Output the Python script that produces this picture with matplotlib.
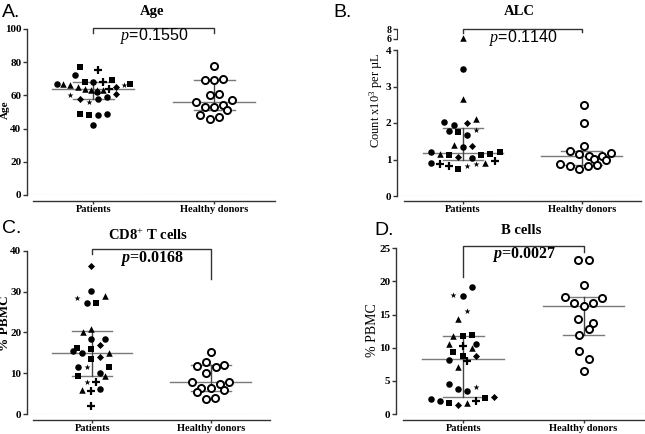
import matplotlib
matplotlib.use('Agg')
import matplotlib.pyplot as plt

plt.rcParams['font.family'] = 'Liberation Serif'
plt.rcParams['mathtext.fontset'] = 'custom'
plt.rcParams['mathtext.it'] = 'Liberation Serif:italic'
plt.rcParams['mathtext.bfit'] = 'Liberation Serif:bold:italic'
plt.rcParams['mathtext.rm'] = 'Liberation Serif'

W, H = 645, 434
groups = ['Patients', 'Healthy donors']

# ---- A. Age ----
age_pat = [77, 75, 72, 67, 67, 66, 65, 68, 68, 64, 63, 68, 69, 63, 63, 64, 65, 66, 67,
           62, 61, 60, 58, 56, 58, 59, 49, 48, 48, 49, 42]
age_pat_dx = [-0.11, 0.04, -0.15, -0.30, -0.25, -0.19, -0.13, -0.07, 0.0, -0.07, -0.02, 0.08,
              0.15, 0.03, 0.08, 0.13, 0.19, 0.25, 0.30, 0.03, 0.19, -0.19, -0.11, -0.04, 0.04,
              0.11, -0.11, -0.04, 0.04, 0.11, 0.0]
age_pat_mk = ['s', '+', 'o', 'o', '^', '^', '^', 's', 'o', '^', '^', '+', 's', '^', '^', '+',
              'D', '*', 's', 'o', 'D', '*', 'D', '*', 'o', 'o', 's', 's', 'o', 'o', 'o']
age_hd = [78, 69, 69, 70, 60, 61, 56, 57, 53, 53, 54, 51, 48, 46, 47]
age_hd_dx = [0.0, -0.077, 0.0, 0.074, -0.038, 0.036, -0.151, 0.151, -0.077, 0.0, 0.074,
             0.11, -0.115, -0.038, 0.036]
age_stats = [(64, 58, 68), (56, 51, 69)]  # median, q1, q3

# ---- B. ALC ----
alc_pat = [6.3, 3.47, 2.65, 2.02, 1.94, 2.0, 2.12, 1.78, 1.74, 1.67, 1.80, 1.41, 1.34, 1.37,
           1.20, 1.16, 1.12, 1.07, 1.03, 1.12, 1.16, 1.20,
           0.91, 0.87, 0.81, 0.74, 0.81, 0.87, 0.91, 0.97]
alc_pat_dx = [0.0, 0.0, 0.0, -0.155, -0.076, 0.037, 0.113, -0.118, -0.042, 0.037, 0.113,
              -0.079, 0.0, 0.076, -0.268, -0.197, -0.118, -0.042, 0.076, 0.152, 0.231, 0.310,
              -0.268, -0.192, -0.118, -0.042, 0.037, 0.113, 0.189, 0.268]
alc_pat_mk = ['^', 'o', '^', 'o', 'o', 'D', '^', 'o', 's', 'o', '*', '^', 'o', 'D',
              'o', '^', 's', 'D', 'o', 's', 's', 's', 'o', '+', '+', 's', '*', '*', '^', '+']
alc_hd = [2.49, 2.0, 1.37, 1.24, 1.16, 1.09, 1.02, 1.09, 1.18, 0.89, 0.82, 0.75, 0.82, 0.86, 1.0]
alc_hd_dx = [0.02, 0.02, 0.02, -0.1, -0.02, 0.06, 0.1, 0.17, 0.245, -0.18, -0.1, -0.02,
             0.056, 0.13, 0.206]
alc_stats = [(1.19, 0.98, 1.85), (1.10, 0.86, 1.24)]

# ---- C. CD8+ T cells ----
cd8_pat = [36.2, 30.1, 28.3, 27.3, 27.3, 28.9, 20.2, 20.8, 18.3, 18.4, 16.9, 15.4, 16.2, 14.9,
           15.8, 14.0, 14.9, 13.5, 11.6, 11.4, 11.4, 10.1, 9.4, 9.4, 7.9, 7.9, 5.9, 5.6, 6.1, 2.0]
cd8_pat_dx = [-0.014, -0.011, -0.124, -0.048, 0.031, 0.110, -0.081, -0.011, -0.006, 0.107,
              0.065, -0.160, -0.124, -0.084, -0.011, 0.065, 0.143, -0.011, -0.118, -0.048,
              0.143, 0.065, 0.107, -0.118, -0.048, 0.031, -0.084, -0.011, 0.065, -0.011]
cd8_pat_mk = ['D', 'o', '*', 'o', 's', '^', '^', '^', 'o', 'o', 'D', 'o', 's', 'o', 's', 'D',
              '^', 's', 'o', '*', 's', 'o', '^', 's', '*', '+', '^', '+', 'o', '+']
cd8_hd = [15.1, 12.8, 11.8, 11.6, 12.0, 10.1, 7.8, 6.3, 6.3, 7.3, 7.9, 5.5, 5.9, 3.7, 3.8]
cd8_hd_dx = [0.0, -0.036, -0.112, 0.042, 0.110, -0.036, -0.155, -0.079, 0.0, 0.076, 0.152,
             -0.112, 0.110, -0.036, 0.039]
cd8_stats = [(14.9, 9.4, 20.4), (7.8, 5.7, 11.9)]

# ---- D. B cells ----
bc_pat = [19.1, 17.9, 17.8, 15.5, 14.3, 11.8, 11.8, 11.9, 10.5, 10.3, 10.5, 9.9, 9.3, 8.1, 8.8,
          8.0, 8.7, 7.1, 4.5, 3.7, 3.5, 4.1, 2.3, 2.0, 1.7, 1.3, 1.7, 1.9, 2.4, 2.5]
bc_pat_dx = [0.069, -0.083, -0.006, 0.028, -0.042, -0.083, -0.006, 0.069, -0.117, -0.006,
             0.106, 0.069, -0.083, -0.117, -0.006, 0.033, 0.106, -0.042, -0.117, -0.042,
             0.033, 0.106, -0.269, -0.194, -0.117, -0.042, 0.033, 0.106, 0.183, 0.258]
bc_pat_mk = ['o', '*', 'o', '*', '^', '^', 's', 's', '^', '+', 'o', '^', 's', 'o', 's', '+',
             'D', '^', 'o', 'o', 'o', '*', 'o', 'o', 's', 'D', '^', '+', 's', 'D']
bc_hd = [23.2, 23.2, 19.4, 17.6, 17.5, 16.7, 16.3, 16.7, 14.3, 13.7, 12.8, 11.9, 9.5, 8.3, 6.5]
bc_hd_dx = [-0.042, 0.042, 0.0, -0.153, 0.153, -0.078, 0.0, 0.078, -0.042, 0.078, 0.042,
            -0.039, -0.039, 0.042, 0.0]
bc_stats = [(8.3, 2.5, 11.8), (16.3, 11.9, 17.6)]

AX_COL = '#333333'
SIZES = {'o': 22, 's': 20, '^': 22, 'D': 13, '*': 20, '+': 34}


def rect(x0, y0, x1, y1):
    # pixel box (left, top, right, bottom) -> figure fraction
    return [x0 / W, 1 - y1 / H, (x1 - x0) / W, (y1 - y0) / H]


def style_axis(ax, ymax, yticks, xlim, drop=6):
    ax.set_xlim(*xlim)
    ax.set_ylim(0, ymax)
    for s in ['top', 'right']:
        ax.spines[s].set_visible(False)
    ax.spines['left'].set_bounds(0, ymax)
    ax.spines['bottom'].set_bounds(-0.5, 1.5)
    ax.spines['bottom'].set_position(('outward', drop * 0.72))
    for s in ['left', 'bottom']:
        ax.spines[s].set_color(AX_COL)
        ax.spines[s].set_linewidth(1.0)
    ax.set_yticks(yticks)
    ax.set_xticks([0, 1])
    ax.set_xticklabels(groups)
    ax.tick_params(axis='y', length=3, width=1, color=AX_COL, pad=1, labelsize=8)
    ax.tick_params(axis='x', length=2, width=1, color=AX_COL, pad=1, labelsize=7.5)
    for lab in ax.get_xticklabels() + ax.get_yticklabels():
        lab.set_fontweight('bold')
    ax.axhline(0, color='#666666', lw=0.8, ls=(0, (1, 1.5)), zorder=0)


def draw_points(ax, vals, dx, mk, x0):
    for m in set(mk):
        xs = [x0 + d for d, k in zip(dx, mk) if k == m]
        ys = [v for v, k in zip(vals, mk) if k == m]
        ax.scatter(xs, ys, marker=m, s=SIZES[m], c='black',
                   linewidths=1.6 if m == '+' else 0, clip_on=False, zorder=3)


def draw_open(ax, vals, dx, x0):
    ax.scatter([x0 + d for d in dx], vals, marker='o', s=26, facecolors='white',
               edgecolors='black', linewidths=1.4, clip_on=False, zorder=3)


def draw_stats(ax, stats):
    for i, (med, q1, q3) in enumerate(stats):
        ax.plot([i - 0.34, i + 0.34], [med, med], color='#7a7a7a', lw=1, zorder=2)
        ax.plot([i - 0.17, i + 0.17], [q1, q1], color='#7a7a7a', lw=1, zorder=2)
        ax.plot([i - 0.17, i + 0.17], [q3, q3], color='#7a7a7a', lw=1, zorder=2)
        ax.plot([i, i], [q1, q3], color='#444444', lw=1, zorder=2)


def bracket(ax, top, left_bot, right_bot):
    ax.plot([0, 0, 1, 1], [left_bot, top, top, right_bot], color=AX_COL, lw=1,
            clip_on=False, zorder=2)


fig = plt.figure(figsize=(W / 100, H / 100), dpi=100)
fig.patch.set_facecolor('white')

# A
axA = fig.add_axes(rect(27, 29, 277, 195))
style_axis(axA, 100, range(0, 101, 20), (-0.55, 1.52))
draw_stats(axA, age_stats)
draw_points(axA, age_pat, age_pat_dx, age_pat_mk, 0)
draw_open(axA, age_hd, age_hd_dx, 1)
bracket(axA, 100.8, 97.5, 97.5)
axA.text(0.5, 95.5, r'$p$=0.1550', ha='center', va='center', fontsize=11.5,
         family='Liberation Sans')
axA.set_title('Age', fontsize=10.5, fontweight='bold', pad=10)

# B (broken axis)
axB = fig.add_axes(rect(397, 50, 641, 196))
style_axis(axB, 4, range(0, 5), (-0.555, 1.5), drop=5)
axB.spines['left'].set_bounds(0, 4)
axBt = fig.add_axes(rect(397, 29.3, 641, 39), sharex=axB)
axBt.set_ylim(6, 8)
for s in ['top', 'right', 'bottom']:
    axBt.spines[s].set_visible(False)
axBt.spines['left'].set_color(AX_COL)
axBt.set_yticks([6, 8])
axBt.tick_params(axis='y', length=3, width=1, color=AX_COL, pad=1, labelsize=7)
axBt.tick_params(axis='x', bottom=False, labelbottom=False)
for lab in axBt.get_yticklabels():
    lab.set_fontweight('bold')
axBt.patch.set_alpha(0)
draw_stats(axB, alc_stats)
hi = [i for i, v in enumerate(alc_pat) if v > 4]
lo = [i for i, v in enumerate(alc_pat) if v <= 4]
draw_points(axB, [alc_pat[i] for i in lo], [alc_pat_dx[i] for i in lo],
            [alc_pat_mk[i] for i in lo], 0)
draw_points(axBt, [alc_pat[i] for i in hi], [alc_pat_dx[i] for i in hi],
            [alc_pat_mk[i] for i in hi], 0)
draw_open(axB, alc_hd, alc_hd_dx, 1)
bracket(axBt, 8, 7.2, 7.4)
axBt.text(0.51, 6.3, r'$p$=0.1140', ha='center', va='center', fontsize=11.5,
          family='Liberation Sans')
axBt.set_title('ALC', fontsize=10.5, fontweight='bold', pad=10)

# C
axC = fig.add_axes(rect(27, 250.7, 270, 414))
style_axis(axC, 40, range(0, 41, 10), (-0.55, 1.5))
draw_stats(axC, cd8_stats)
draw_points(axC, cd8_pat, cd8_pat_dx, cd8_pat_mk, 0)
draw_open(axC, cd8_hd, cd8_hd_dx, 1)
bracket(axC, 40.4, 39.1, 33.1)
axC.text(0.5, 38.1, r'$\mathbfit{p}$=0.0168', ha='center', va='center', fontsize=11.5,
         fontweight='bold')
axC.set_title('CD8$^{+}$ T cells', fontsize=10.5, fontweight='bold', pad=8)

# D
axD = fig.add_axes(rect(396, 248.3, 646, 414))
style_axis(axD, 25, range(0, 26, 5), (-0.56, 1.52))
draw_stats(axD, bc_stats)
draw_points(axD, bc_pat, bc_pat_dx, bc_pat_mk, 0)
draw_open(axD, bc_hd, bc_hd_dx, 1)
bracket(axD, 25.4, 20.7, 24.5)
axD.text(0.506, 24.0, r'$\mathbfit{p}$=0.0027', ha='center', va='center', fontsize=11.5,
         fontweight='bold')
axD.set_title('B cells', fontsize=10.5, fontweight='bold', pad=10)

# y labels
fig.text(5 / W, 1 - 110 / H, 'Age', rotation=90, ha='center', va='center',
         fontsize=8, fontweight='bold')
fig.text(376 / W, 1 - 100 / H, r'Count x10$^{3}$ per µL', rotation=90, ha='center',
         va='center', fontsize=9)
fig.text(5 / W, 1 - 323 / H, '% PBMC', rotation=90, ha='center', va='center',
         fontsize=9.5, fontweight='bold')
fig.text(373 / W, 1 - 330 / H, '% PBMC', rotation=90, ha='center', va='center',
         fontsize=10)

# panel letters
for lbl, x, y in [('A.', 2, 17), ('B.', 333, 17), ('C.', 2, 233), ('D.', 374, 235)]:
    fig.text(x / W, 1 - y / H, lbl, ha='left', va='baseline', fontsize=14,
             family='Liberation Sans')

fig.savefig('out.png', dpi=100, facecolor='white')
